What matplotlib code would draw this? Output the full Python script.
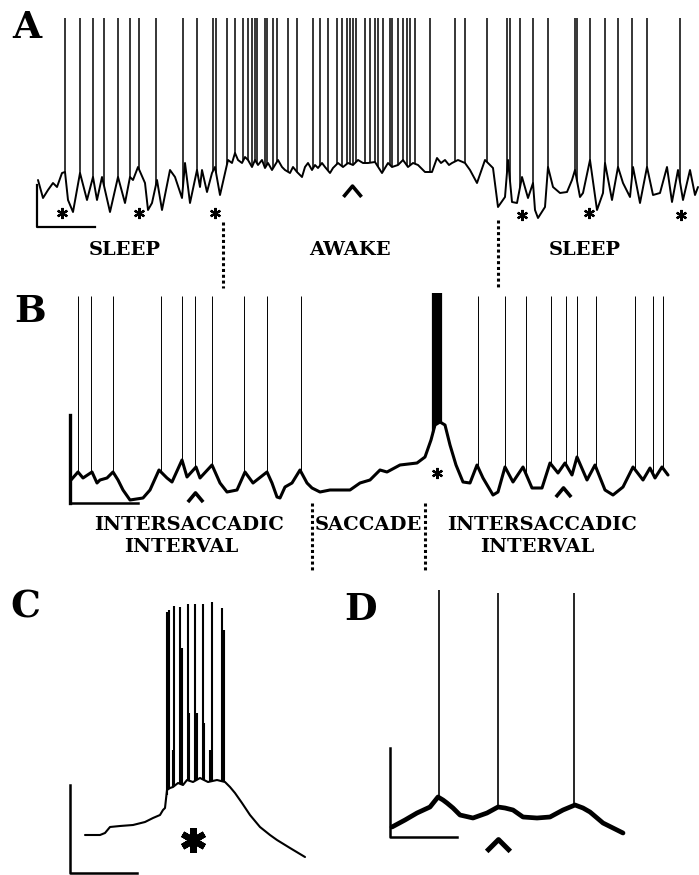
import numpy as np
import matplotlib
matplotlib.use("Agg")
import matplotlib.pyplot as plt
from matplotlib.path import Path

# ---------------- DATA (time in a.u., potential in a.u.) ----------------
# Panel A : sleep / awake / sleep
a_t = [38, 43, 48, 53, 57, 62, 65, 68, 73, 80, 87, 93, 97, 102, 110, 118, 125, 130, 133, 138,
       145, 148, 152, 157, 162, 170, 175, 182, 185, 190, 197, 200, 202, 207, 212, 215, 220,
       225, 228, 232, 235, 238, 242, 245, 248, 252, 255, 258, 262, 265, 268, 272, 275, 278,
       282, 285, 290, 293, 297, 302, 305, 308, 312, 315, 318, 322, 325, 330, 333, 338, 343,
       348, 353, 358, 363, 368, 375, 382, 388, 392, 398, 403, 408, 413, 418, 425, 432, 437,
       441, 445, 449, 452, 458, 465, 470, 477, 485,
       493, 498, 505, 508, 512, 517, 522, 528, 533, 535, 538, 545, 548, 553, 560, 567, 572, 575,
       580, 583, 590, 597, 603, 605, 612, 618, 623, 630, 633, 640, 647, 653, 660, 667, 672, 678,
       683, 690, 695, 698]
a_v = [110, 92, 100, 107, 103, 117, 118, 90, 78, 117, 90, 113, 90, 113, 78, 113, 87, 113, 110, 123,
       107, 80, 87, 110, 80, 120, 113, 92, 127, 87, 120, 103, 120, 98, 117, 123, 95,
       117, 130, 127, 137, 130, 127, 133, 130, 123, 130, 125, 130, 122, 127, 120, 125, 130,
       123, 120, 117, 123, 118, 113, 123, 127, 120, 125, 122, 127, 123, 117, 122, 127, 123,
       127, 125, 130, 127, 127, 128, 117, 127, 123, 125, 130, 123, 127, 125, 118, 118, 132,
       127, 130, 125, 127, 130, 127, 120, 107, 130,
       122, 83, 93, 130, 88, 87, 113, 92, 107, 80, 72, 83, 123, 103, 97, 98, 110, 120,
       93, 97, 130, 80, 97, 127, 90, 123, 107, 93, 123, 87, 123, 95, 97, 123, 88, 120,
       90, 120, 95, 103]
a_spikes = [65, 80, 93, 104, 118, 130, 139, 156, 183, 197, 213, 216, 227, 235, 243, 248, 252, 255,
            257, 265, 267, 273, 277, 288, 297, 313, 320, 328, 337, 342, 347, 350, 353, 356, 365,
            370, 375, 378, 383, 390, 392, 398, 403, 407, 410, 415, 430, 455, 465, 487, 507, 510,
            520, 533, 548, 575, 577, 590, 605, 618, 632, 647, 680]
a_spike_top = 272
a_stars_t = [62, 139, 215, 522, 589, 681]
a_stars_v = [77, 77, 77, 75, 77, 75]
a_labels = ["SLEEP", "AWAKE", "SLEEP"]
a_labels_t = [125, 350, 585]

# Panel B : intersaccadic interval / saccade / intersaccadic interval
b_t = [71, 78, 83, 92, 97, 100, 107, 113, 118, 123, 130, 143, 150, 159, 167, 172, 182, 187, 196,
       200, 212, 220, 227, 237, 245, 253, 267, 272, 277, 280, 285, 292, 300, 307, 312, 320, 330,
       350, 360, 370, 380, 387, 400, 417, 425, 431, 435, 440, 445, 450, 456, 463, 470, 477, 483,
       493, 498, 505, 513, 523, 532, 542, 550, 558, 565, 572, 577, 587, 595, 605, 613, 623, 633,
       643, 650, 655, 662, 668]
b_v = [100, 108, 102, 108, 97, 100, 102, 108, 100, 90, 80, 82, 90, 110, 102, 98, 120, 103, 113,
       102, 115, 97, 88, 90, 108, 97, 108, 97, 83, 82, 93, 97, 110, 97, 92, 88, 90,
       90, 97, 100, 110, 108, 115, 117, 123, 140, 155, 158, 155, 135, 115, 98, 97, 115, 102,
       85, 88, 113, 98, 113, 92, 92, 117, 107, 117, 105, 123, 100, 115, 90, 85, 93, 113,
       100, 112, 102, 113, 105]
b_spikes = [78, 91, 113, 161, 182, 195, 212, 244, 267, 301,
            478, 505, 526, 551, 566, 577, 596, 635, 653, 663]
b_spike_top = 284
b_burst = [433, 434.2, 435.4, 436.6, 437.8, 439, 440.2, 441]
b_burst_top = 287
b_labels = ["INTERSACCADIC", "INTERVAL", "SACCADE", "INTERSACCADIC", "INTERVAL"]
b_labels_t = [189, 181, 368, 542, 537]
b_labels_v = [55, 33, 55, 55, 33]

# Panel C : burst
c_t = [85, 100, 105, 110, 120, 133, 145, 153, 160, 163, 165, 167, 170, 173, 178, 183, 187, 193,
       200, 208, 217, 225, 230, 235, 242, 250, 260, 270, 277, 290, 305]
c_v = [40, 40, 42, 48, 49, 50, 53, 57, 60, 65, 67, 85, 87, 88, 92, 90, 95, 93,
       97, 93, 95, 93, 88, 82, 72, 60, 48, 40, 35, 27, 18]
c_spikes = [166.5, 168.5, 174, 180, 188, 195, 203, 212, 222, 223.8]
c_spike_tops = [263, 265, 269, 268, 271, 271, 271, 273, 267, 245]
c_partial = [173, 182, 189, 197, 204, 210]
c_partial_tops = [125, 227, 162, 162, 152, 125]

# Panel D : three spikes on intersaccadic waves
d_t = [42, 55, 67, 80, 88, 93, 97, 103, 110, 123, 137, 148, 155, 163, 173, 187, 200, 213, 225,
       233, 240, 253, 263, 273]
d_v = [48, 55, 62, 68, 78, 75, 72, 67, 60, 57, 62, 68, 67, 65, 58, 57, 58, 65, 70,
       67, 63, 52, 47, 42]
d_spikes = [89, 148, 224]
d_spike_tops = [285, 282, 282]

# ---------------- FIGURE ----------------
W, H = 699, 875
fig = plt.figure(figsize=(W / 100, H / 100), dpi=100)
fig.patch.set_facecolor("white")
SERIF = ["DejaVu Serif"]
LAB = dict(family=SERIF, fontweight="bold", fontsize=14, ha="center", va="center")
PANEL = dict(family=SERIF, fontweight="bold", fontsize=27, ha="center", va="center")


def make_ax(x0, y0, w, h):
    ax = fig.add_axes([x0 / W, 1 - (y0 + h) / H, w / W, h / H])
    ax.set_xlim(0, w)
    ax.set_ylim(0, h)
    ax.axis("off")
    return ax


def chevron(ratio):
    return Path([(-1, -ratio), (0, ratio), (1, -ratio)],
                [Path.MOVETO, Path.LINETO, Path.LINETO])


def draw_trace(ax, t, v, spikes, tops, lw_trace, lw_spike):
    ax.plot(t, v, color="black", lw=lw_trace, solid_joinstyle="round",
            solid_capstyle="round")
    feet = np.interp(spikes, t, v)
    ax.vlines(spikes, feet, tops, color="black", lw=lw_spike)


# ---- Panel A ----
axA = make_ax(0, 0, 699, 290)
draw_trace(axA, a_t, a_v, a_spikes, a_spike_top, 1.4, 1.1)
axA.plot([37, 37, 95], [105, 63, 63], color="black", lw=1.6)
axA.plot(a_stars_t, a_stars_v, ls="none", marker=(6, 2, 0), ms=8, mew=1.6, color="black")
axA.plot([352], [99], ls="none", marker=chevron(0.6), ms=13, mew=2.6, color="black",
         fillstyle="none")
axA.plot([223, 223], [68, 2], color="black", lw=2.2, ls=(0, (1, 0.9)))
axA.plot([498, 498], [70, 3], color="black", lw=2.2, ls=(0, (1, 0.9)))
for s, x in zip(a_labels, a_labels_t):
    axA.text(x, 40, s, **LAB)
axA.text(27, 263, "A", **PANEL)

# ---- Panel B ----
axB = make_ax(0, 290, 699, 290)
draw_trace(axB, b_t, b_v, b_spikes, b_spike_top, 2.2, 0.7)
feetB = np.interp(b_burst, b_t, b_v)
axB.vlines(b_burst, feetB, b_burst_top, color="black", lw=1.6)
axB.plot([70, 70], [165, 77], color="black", lw=2.4)
axB.plot([70, 138], [77, 77], color="black", lw=1.8)
axB.plot([437], [107], ls="none", marker=(6, 2, 0), ms=8, mew=1.6, color="black")
axB.plot([195, 563], [83, 88], ls="none", marker=chevron(0.6), ms=11, mew=2.6,
         color="black", fillstyle="none")
axB.plot([312, 312], [77, 10], color="black", lw=2.2, ls=(0, (1, 0.9)))
axB.plot([425, 425], [77, 10], color="black", lw=2.2, ls=(0, (1, 0.9)))
for s, x, y in zip(b_labels, b_labels_t, b_labels_v):
    axB.text(x, y, s, **LAB)
axB.text(30, 268, "B", **PANEL)

# ---- Panel C ----
axC = make_ax(0, 580, 350, 295)
draw_trace(axC, c_t, c_v, c_spikes, c_spike_tops, 1.5, 1.5)
feetC = np.interp(c_partial, c_t, c_v)
axC.vlines(c_partial, feetC, c_partial_tops, color="black", lw=1.5)
axC.plot([70, 70, 137], [90, 2, 2], color="black", lw=1.8)
axC.plot([193], [35], ls="none", marker=(6, 2, 0), ms=18, mew=4.5, color="black")
axC.text(25, 268, "C", **PANEL)

# ---- Panel D ----
axD = make_ax(350, 580, 349, 295)
draw_trace(axD, d_t, d_v, d_spikes, d_spike_tops, 3.4, 1.2)
axD.plot([40, 40, 107], [127, 38, 38], color="black", lw=1.8)
axD.plot([148], [30], ls="none", marker=chevron(0.5), ms=17, mew=3.6, color="black",
         fillstyle="none")
axD.text(11, 266, "D", **PANEL)

fig.savefig("out.png", dpi=100, facecolor="white")
